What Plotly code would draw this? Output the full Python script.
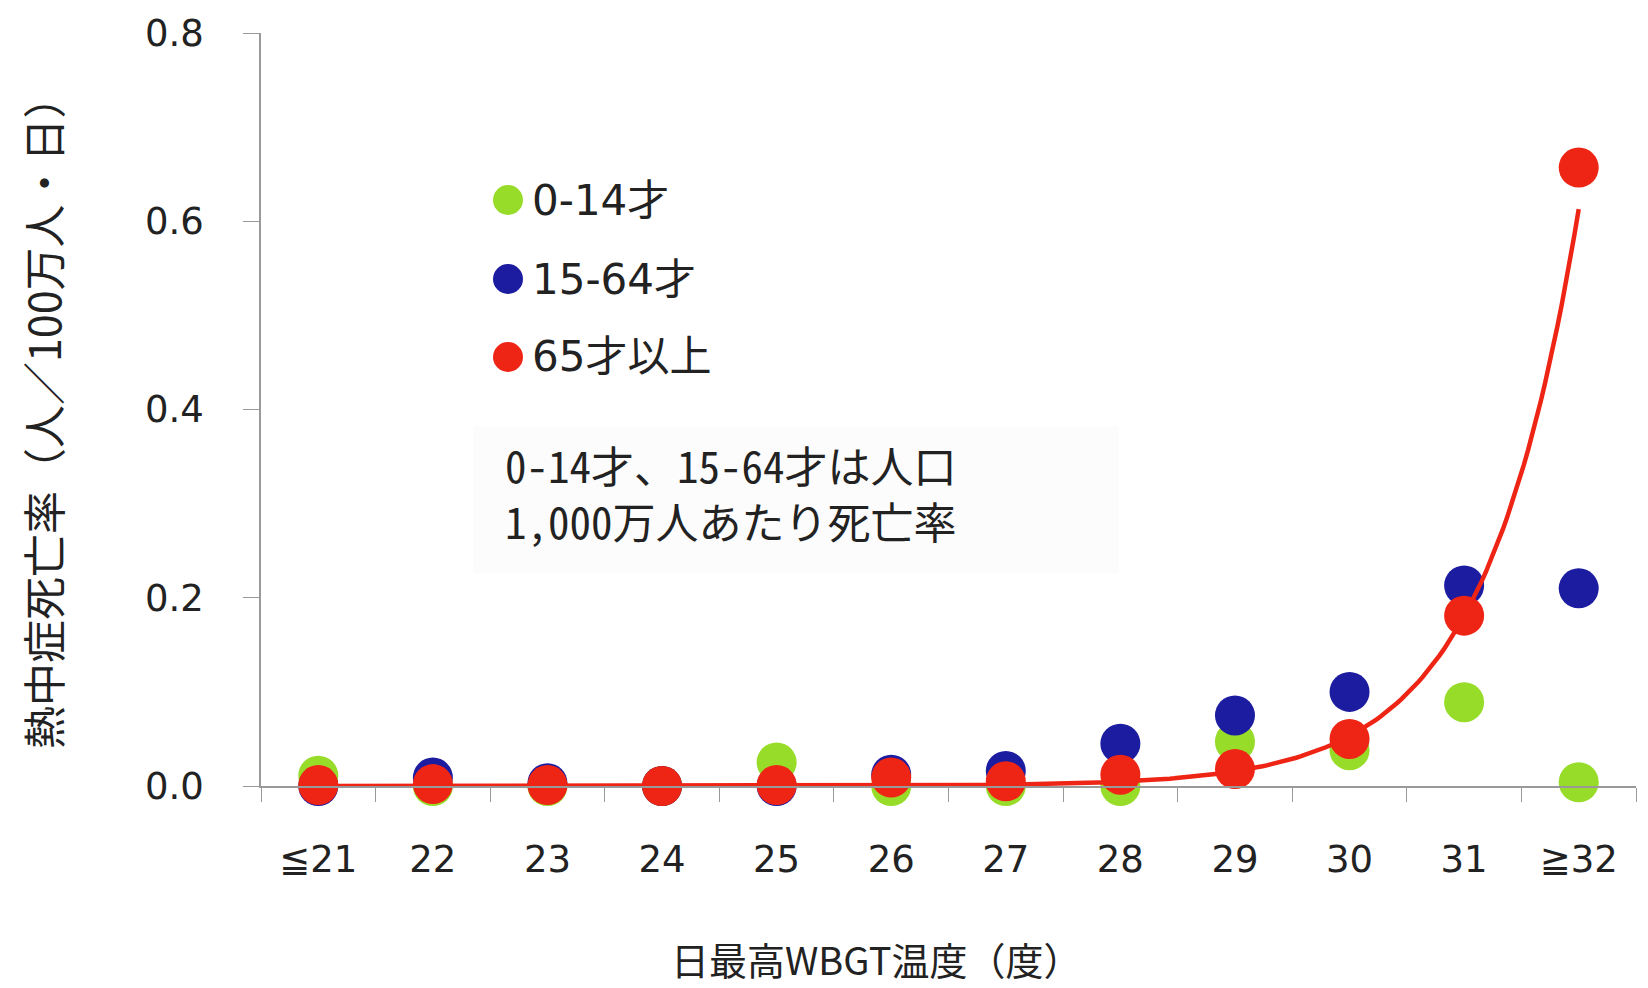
import numpy as np
import plotly.graph_objects as go

# ---- data ----
categories = ["≦21", "22", "23", "24", "25", "26", "27", "28", "29", "30", "31", "≧32"]
age_0_14 = [0.011, 0.0, 0.0, 0.0, 0.025, 0.0, 0.0, 0.0, 0.047, 0.038, 0.089, 0.004]
age_15_64 = [0.0, 0.009, 0.003, 0.0, 0.0, 0.012, 0.016, 0.045, 0.075, 0.100, 0.213, 0.210]
age_65_plus = [0.001, 0.002, 0.001, 0.0, 0.001, 0.009, 0.005, 0.012, 0.018, 0.050, 0.181, 0.657]
series_names = ["0-14才", "15-64才", "65才以上"]
y_ticks = [0.0, 0.2, 0.4, 0.6, 0.8]
note_lines = ["0-14才、15-64才は人口", "1,000万人あたり死亡率"]
# exponential trendline of the 65+ series (value at last category, growth per category)
trend_end = 0.613
trend_growth = 3.4

GREEN = "#98dc2a"
BLUE = "#1c1ca0"
RED = "#ee2414"
colors = [GREEN, BLUE, RED]

x_idx = list(range(len(categories)))

fig = go.Figure()
for name, vals, col in zip(series_names, [age_0_14, age_15_64, age_65_plus], colors):
    fig.add_trace(go.Scatter(
        x=x_idx, y=vals, mode="markers", name=name,
        marker=dict(size=40, color=col, line=dict(width=0)),
        cliponaxis=False, showlegend=False,
    ))

xt = np.linspace(0, len(categories) - 1, 300)
yt = trend_end * trend_growth ** (xt - (len(categories) - 1))
fig.add_trace(go.Scatter(
    x=xt, y=yt, mode="lines", line=dict(color=RED, width=4.5),
    showlegend=False, hoverinfo="skip", cliponaxis=False,
))

TICKFONT = dict(family="DejaVu Sans", size=37, color="#222")

fig.update_xaxes(
    range=[-0.5, len(categories) - 0.5],
    tickmode="array", tickvals=x_idx, ticktext=categories,
    ticks="", showgrid=False, zeroline=False,
    showline=True, linecolor="#999", linewidth=1.5,
    tickfont=TICKFONT, ticklabelstandoff=40,
    minor=dict(tick0=-0.5, dtick=1, ticks="outside", ticklen=14,
               tickcolor="#999", tickwidth=1.2, showgrid=False),
)
fig.update_yaxes(
    range=[0, 0.8], tickmode="array", tickvals=y_ticks,
    ticktext=[f"{v:.1f}" for v in y_ticks],
    ticks="outside", ticklen=16, tickcolor="#999", tickwidth=1.2,
    showgrid=False, zeroline=False,
    showline=True, linecolor="#999", linewidth=1.5,
    tickfont=TICKFONT, ticklabelstandoff=32,
)

# plot-area geometry helpers (pixels in the 1648x988 page)
L, R, T, B = 261, 12, 33, 202
PW, PH = 1648 - L - R, 988 - T - B


def px(x):
    return (x - L) / PW


def py(y):
    return (988 - B - y) / PH


shapes = []
annotations = []

# very faint box behind the note
shapes.append(dict(type="rect", xref="paper", yref="paper",
                   x0=px(473), x1=px(1119), y0=py(573), y1=py(426),
                   fillcolor="rgba(0,0,0,0.012)", line=dict(width=0), layer="below"))

# legend (drawn manually so the dots keep their size)
legend_rows = [200, 279, 357]
for name, col, ry in zip(series_names, colors, legend_rows):
    shapes.append(dict(type="circle", xref="paper", yref="paper",
                       xsizemode="pixel", ysizemode="pixel",
                       xanchor=px(508), yanchor=py(ry),
                       x0=-15, x1=15, y0=-15, y1=15,
                       fillcolor=col, line=dict(width=0)))
    annotations.append(dict(xref="paper", yref="paper", x=px(530), y=py(ry),
                            text=name, showarrow=False, xanchor="left", yanchor="middle",
                            font=dict(family="DejaVu Sans, Noto Sans CJK JP", size=42, color="#222")))

annotations.append(dict(xref="paper", yref="paper", x=px(503), y=py(492),
                        text="<br>".join(note_lines),
                        showarrow=False, xanchor="left", yanchor="middle", align="left",
                        font=dict(family="Noto Sans Mono CJK JP, Noto Sans CJK JP",
                                  size=43, color="#222")))

annotations.append(dict(xref="paper", yref="paper", x=px(42), y=py(412),
                        text="熱中症死亡率（人／100万人・日）", textangle=-90,
                        showarrow=False, xanchor="center", yanchor="middle",
                        font=dict(family="Noto Sans CJK JP", size=43, color="#222")))

annotations.append(dict(xref="paper", yref="paper", x=px(876), y=py(958),
                        text="日最高WBGT温度（度）",
                        showarrow=False, xanchor="center", yanchor="middle",
                        font=dict(family="Noto Sans CJK JP", size=38, color="#222")))

fig.update_layout(
    width=1648, height=988,
    margin=dict(l=L, r=R, t=T, b=B, autoexpand=False),
    paper_bgcolor="white", plot_bgcolor="white",
    shapes=shapes, annotations=annotations, showlegend=False,
)

fig.write_html("out.html")
